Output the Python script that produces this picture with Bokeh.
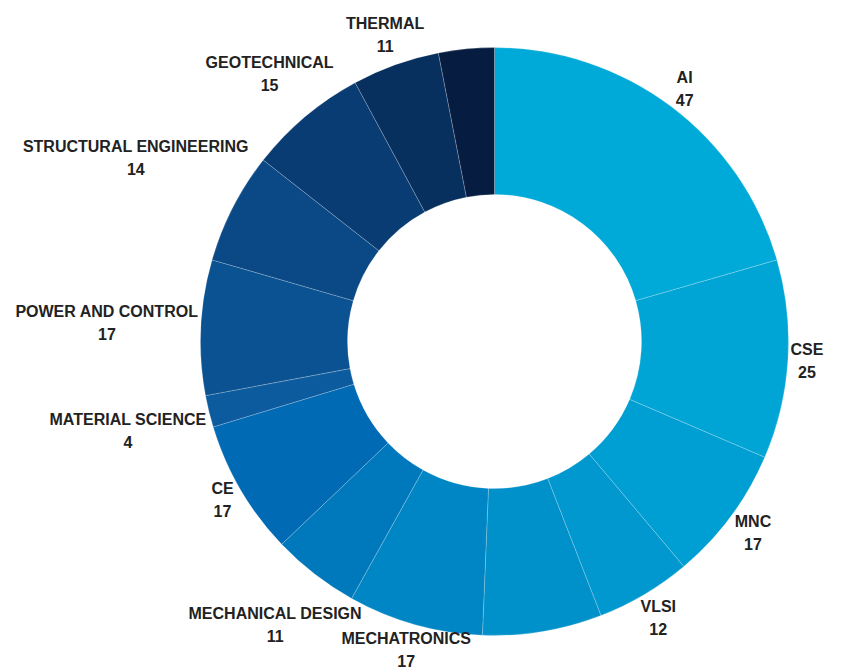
import math
from bokeh.plotting import figure
from bokeh.models import Range1d, ColumnDataSource
from bokeh.core.properties import value
from bokeh.embed import file_html
from bokeh.resources import INLINE

# ---- data (clockwise from 12 o'clock) ----
categories = ["AI", "CSE", "MNC", "VLSI", "", "MECHATRONICS", "MECHANICAL DESIGN", "CE",
              "MATERIAL SCIENCE", "POWER AND CONTROL", "STRUCTURAL ENGINEERING",
              "GEOTECHNICAL", "THERMAL", ""]
counts = [47, 25, 17, 12, 15, 17, 11, 17, 4, 17, 14, 15, 11, 7]
colors = ["#00AAD8", "#00A5D6", "#009FD3", "#0098CE", "#0090CA", "#0086C4", "#0079BC",
          "#006AB4", "#0C5B9E", "#0B5292", "#0A4985", "#093C73", "#07305E", "#061C40"]

W, H = 843, 672
CX, CY = 494.0, H - 341.0
R_OUT, R_IN = 294.0, 147.0
FONT_PX = 16
LINE_H = 1.35
GAP = 2.0

# Arial/Liberation Sans Bold advance widths (per 1000 em)
AW = {c: 722 for c in "ABCDHKNRUX"}
AW.update({"E": 667, "F": 611, "G": 778, "I": 278, "J": 556, "L": 611, "M": 833,
           "O": 778, "P": 667, "Q": 778, "S": 667, "T": 611, "V": 667, "W": 944,
           "Y": 667, "Z": 611, " ": 278})
for d in "0123456789":
    AW[d] = 556


def text_w(s):
    return sum(AW.get(c, 667) for c in s) * FONT_PX / 1000.0


def box_dist(x, y, hw, hh):
    nx = min(max(CX, x - hw), x + hw)
    ny = min(max(CY, y - hh), y + hh)
    return math.hypot(nx - CX, ny - CY)


total = float(sum(counts))
starts, ends, lx, ly, ltxt = [], [], [], [], []
acc = 0.0
hh = 0.5 * (FONT_PX * LINE_H + FONT_PX)
for cat, v in zip(categories, counts):
    t1 = acc / total * 2 * math.pi
    acc += v
    t2 = acc / total * 2 * math.pi
    starts.append(math.pi / 2 - t1)
    ends.append(math.pi / 2 - t2)
    if cat:
        tm = (t1 + t2) / 2
        sx, sy = math.sin(tm), math.cos(tm)
        hw = max(text_w(cat), text_w(str(v))) / 2
        lo, hi = R_OUT, R_OUT + 300
        for _ in range(60):
            mid = (lo + hi) / 2
            if box_dist(CX + mid * sx, CY + mid * sy, hw, hh) < R_OUT + GAP:
                lo = mid
            else:
                hi = mid
        x = CX + hi * sx
        y = CY + hi * sy
        x = max(x, hw + 12)
        y = min(max(y, hh + 4), H - hh + 4)
        lx.append(x)
        ly.append(y)
        ltxt.append(f"{cat}\n{v}")

src = ColumnDataSource(dict(start=starts, end=ends, color=colors))
lab = ColumnDataSource(dict(x=lx, y=ly, text=ltxt))

p = figure(width=W, height=H, output_backend="svg", toolbar_location=None,
           x_range=Range1d(0, W), y_range=Range1d(0, H), min_border=0)
p.axis.visible = False
p.grid.visible = False
p.outline_line_color = None
p.background_fill_color = "white"
p.border_fill_color = "white"

p.annular_wedge(x=CX, y=CY, inner_radius=R_IN, outer_radius=R_OUT,
                start_angle="start", end_angle="end", direction="clock",
                fill_color="color", line_color="white", line_alpha=0.35,
                line_width=0.6, source=src)

p.text(x="x", y="y", text="text", source=lab, text_align="center",
       text_baseline="middle", text_font=value("Liberation Sans"),
       text_font_style="bold", text_font_size=f"{FONT_PX}px",
       text_line_height=LINE_H, text_color="#222222")

open("out.html", "w").write(file_html(p, INLINE))
